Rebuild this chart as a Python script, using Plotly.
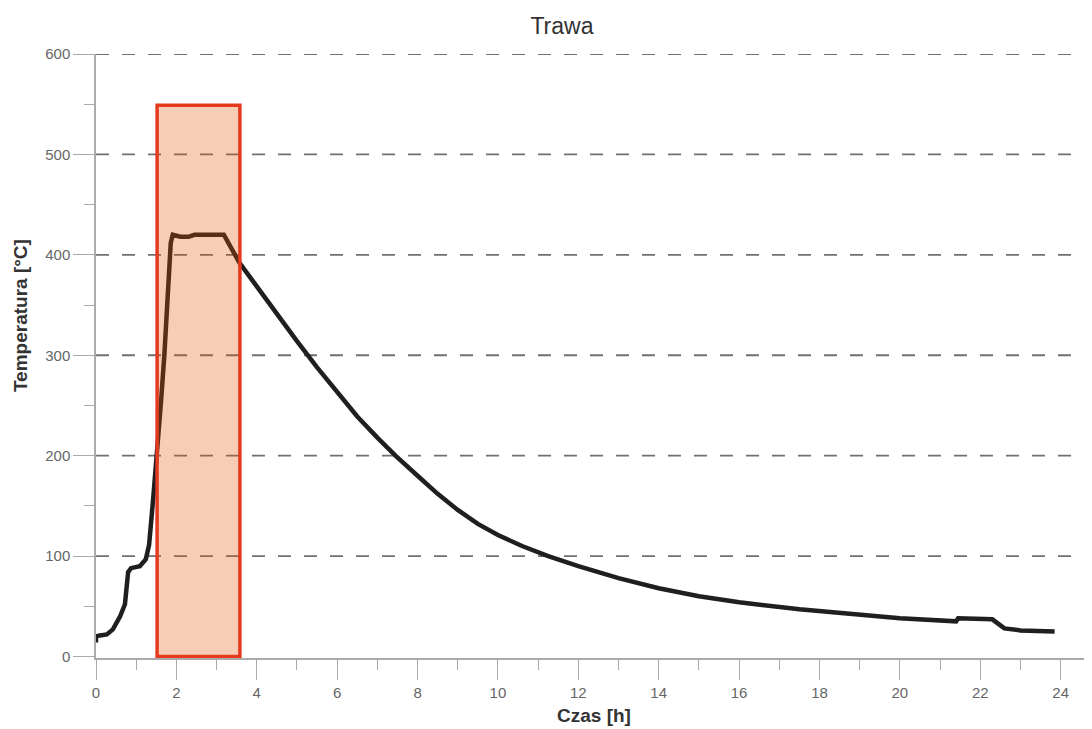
import plotly.graph_objects as go

# Data
hours = [0.0, 0.0, 0.1, 0.27, 0.42, 0.6, 0.72, 0.76, 0.8, 0.87, 1.09, 1.24, 1.32, 1.42, 1.52,
         1.62, 1.70, 1.80, 1.86, 1.91, 2.0, 2.1, 2.3, 2.45, 2.8, 3.18, 3.57, 4.0, 4.5,
         5.0, 5.5, 6.0, 6.5, 7.0, 7.45, 8.0, 8.5, 9.0, 9.5, 10.0, 10.6, 11.25,
         12.0, 13.0, 14.0, 15.0, 16.0, 17.5, 19.0, 20.0, 21.4, 21.45, 22.3, 22.45,
         22.6, 23.0, 23.85]
temps = [14, 20, 21, 22, 27, 40, 52, 75, 84, 88, 90, 97, 111, 156, 200,
         255, 300, 380, 412, 420, 419, 418, 418, 420, 420, 420, 392, 368, 341,
         314, 288, 263, 239, 218, 200, 180, 162, 146, 132, 121, 110, 100,
         90, 78, 68, 60, 54, 47, 41, 38, 35, 38, 37, 32,
         28, 26, 25]

zone_x = [1.52, 3.58]
zone_y = [0, 549]

grid_levels = [100, 200, 300, 400, 500, 600]
x_ticks = list(range(0, 25, 2))
x_minor = list(range(1, 25, 2))
y_ticks = list(range(0, 601, 100))
y_minor = list(range(50, 600, 100))

title_text = "Trawa"
x_title = "Czas [h]"
y_title = "Temperatura [°C]"

fig = go.Figure()

for g in grid_levels:
    fig.add_shape(type="line", xref="paper", yref="y", x0=0, x1=1, y0=g, y1=g,
                  line=dict(color="#707070", width=1.8, dash="13px,13px"), layer="below")

fig.add_trace(go.Scatter(x=hours, y=temps, mode="lines",
                         line=dict(color="#1f1f1f", width=4.5),
                         showlegend=False, hoverinfo="skip"))

fig.add_shape(type="rect", xref="x", yref="y",
              x0=zone_x[0], x1=zone_x[1], y0=zone_y[0], y1=zone_y[1],
              fillcolor="rgba(232,82,12,0.29)", line=dict(color="#E63A1E", width=3.5),
              layer="above")

font_family = "Liberation Sans, Arial, sans-serif"

fig.add_annotation(text="<b>" + y_title + "</b>", xref="paper", yref="y",
                   x=0, y=339, xanchor="center", yanchor="middle", xshift=-76,
                   textangle=-90, showarrow=False,
                   font=dict(family=font_family, size=19, color="#333333"))

fig.update_layout(
    width=1084, height=721,
    margin=dict(l=88, r=0, t=46, b=71, pad=0),
    paper_bgcolor="white", plot_bgcolor="white",
    title=dict(text=title_text, x=0.511, xanchor="center", y=0.975, yanchor="middle",
               font=dict(family=font_family, size=23, color="#333333")),
    xaxis=dict(range=[0, 24.78], tickmode="array", tickvals=x_ticks,
               ticktext=[str(v) for v in x_ticks], automargin=False,
               ticks="outside", ticklen=20, tickwidth=1.2, tickcolor="#aaaaaa",
               showline=True, linecolor="#aaaaaa", linewidth=1.5,
               showgrid=False, zeroline=False,
               minor=dict(tickvals=x_minor, ticks="outside", ticklen=10,
                          tickwidth=1.2, tickcolor="#aaaaaa", showgrid=False),
               tickfont=dict(family=font_family, size=15, color="#666666"),
               title=dict(text="<b>" + x_title + "</b>", standoff=9,
                          font=dict(family=font_family, size=19, color="#333333"))),
    yaxis=dict(range=[-1.5, 600], tickmode="array", tickvals=y_ticks,
               ticktext=[str(v) for v in y_ticks], automargin=False,
               ticks="outside", ticklen=21, tickwidth=1.2, tickcolor="#aaaaaa",
               showline=True, linecolor="#aaaaaa", linewidth=1.5,
               showgrid=False, zeroline=False,
               minor=dict(tickvals=y_minor, ticks="outside", ticklen=10,
                          tickwidth=1.2, tickcolor="#aaaaaa", showgrid=False),
               tickfont=dict(family=font_family, size=15, color="#666666")),
)

fig.write_html("out.html")
